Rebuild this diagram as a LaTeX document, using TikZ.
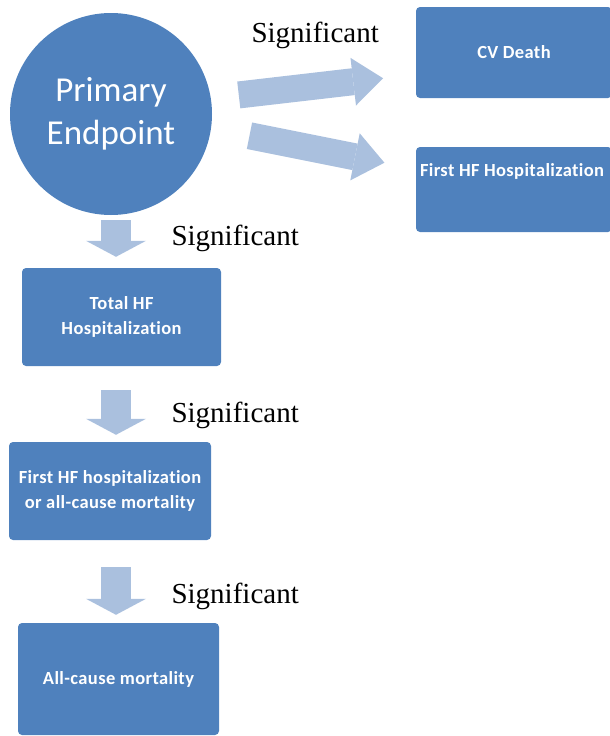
\documentclass[tikz,border=0pt]{standalone}
\usepackage{fontspec}
\setmainfont{Liberation Serif}
\newfontfamily\calfont{Carlito}
\newfontfamily\boxfont[Ligatures=NoCommon,LetterSpace=2]{Carlito}
\usepackage{xcolor}
\usetikzlibrary{arrows.meta,calc}
\definecolor{boxblue}{RGB}{79,129,189}
\definecolor{arrowblue}{RGB}{170,192,222}

\begin{document}
\begin{tikzpicture}[x=1pt,y=-1pt,
  box/.style={fill=boxblue,rounded corners=4pt,inner sep=0pt,text=white,align=center,
    font=\boxfont\bfseries\fontsize{18.5}{25}\selectfont},
  sig/.style={anchor=base west,font=\fontsize{29}{34}\selectfont},
  downarrow/.style={arrowblue,line width=30pt,-{Triangle[length=16pt,width=60pt,line width=0pt]}},
  sidearrow/.style={arrowblue,line width=27pt,-{Triangle[length=30pt,width=48pt,line width=0pt]}}]
\useasboundingbox (0,0) rectangle (610,736);
\coordinate (axis) at (116,0);
\node[circle,fill=boxblue,minimum size=202pt,inner sep=0pt,text=white,align=center,
  font=\calfont\fontsize{35}{43}\selectfont] (pe) at (111,114) {Primary\\Endpoint};
% right column
\node[box,minimum width=196pt,minimum height=91pt] (cvd) at (514,52.5) {CV Death};
\node[box,minimum width=196pt,minimum height=85pt] (fhf) at (514,189.5) {};
\node[box,fill=none,anchor=west] (fhftext) at ([xshift=4pt,yshift=-25pt]fhf.north west) {First HF Hospitalization};
% left column
\node[box,minimum width=199pt,minimum height=98pt] (thf) at (121.5,317) {Total HF\\Hospitalization};
\node[box,minimum width=202pt,minimum height=98pt] (fhfm) at (110,491) {First HF hospitalization\\or all-cause mortality};
\node[box,minimum width=201pt,minimum height=112pt] (acm) at (118.5,679) {All-cause mortality};
% arrows
\draw[sidearrow,shorten <=28pt,shorten >=33pt] (pe.9) -- ($(cvd.south west)!.26!(cvd.north west)$);
\draw[sidearrow,shorten <=39pt,shorten >=32pt] (pe.-8) -- ($(fhf.south west)!.74!(fhf.north west)$);
\draw[downarrow,shorten <=5pt,shorten >=11pt] (pe.south -| axis) -- (thf.north -| axis);
\draw[downarrow,shorten <=24pt,shorten >=7pt] (thf.south -| axis) -- (fhfm.north -| axis);
\draw[downarrow,shorten <=27pt,shorten >=8pt] (fhfm.south -| axis) -- (acm.north -| axis);
% labels
\node[sig] (sig0) at (248,42) {Significant};
\node[sig] (sig1) at (168,245) {Significant};
\node[sig] (sig2) at (168,422) {Significant};
\node[sig] (sig3) at (168,603) {Significant};
\end{tikzpicture}
\end{document}
